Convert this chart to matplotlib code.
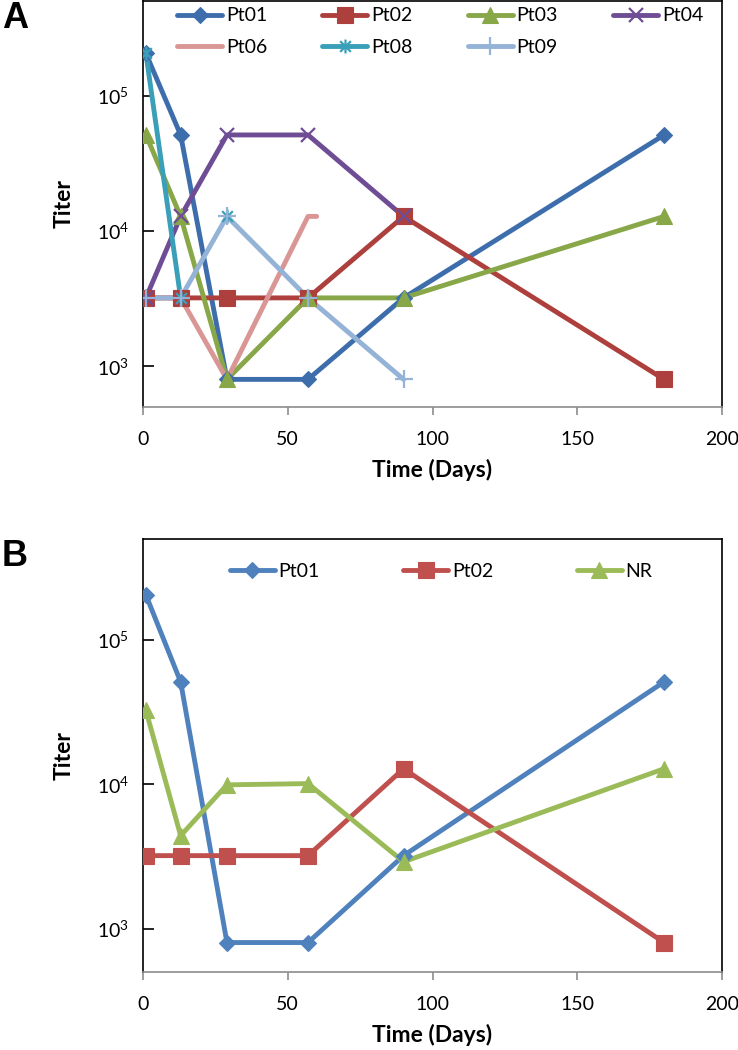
import numpy as np
import matplotlib
matplotlib.use("Agg")
import matplotlib.pyplot as plt
from matplotlib.path import Path
from matplotlib.lines import Line2D

plt.rcParams['font.family'] = ['Lato', 'DejaVu Sans']

# ---------------- data ----------------
days = [1, 13, 29, 57, 90, 180]

# Panel A
pt01_a = [204800, 51200, 800, 800, 3200, 51200]
pt02_a = [3200, 3200, 3200, 3200, 12800, 800]
pt03_a = [51200, 12800, 800, 3200, 3200, 12800]
pt04_x = [1, 13, 29, 57, 90]
pt04_a = [3200, 12800, 51200, 51200, 12800]
pt06_x = [1, 13, 29, 57, 60]
pt06_a = [3200, 3200, 800, 12800, 12800]
pt08_x = [1, 13, np.nan, 29]
pt08_a = [204800, 3200, np.nan, 12800]
pt09_x = [1, 13, 29, 57, 90]
pt09_a = [3200, 3200, 12800, 3200, 800]

# Panel B
pt01_b = [204800, 51200, 800, 800, 3200, 51200]
pt02_b = [3200, 3200, 3200, 3200, 12800, 800]
nr_b = [32500, 4400, 9900, 10100, 2900, 12800]

xticks = [0, 50, 100, 150, 200]
yticks = [1e3, 1e4, 1e5]
ytick_labels = [r'$\mathregular{10^{3}}$', r'$\mathregular{10^{4}}$', r'$\mathregular{10^{5}}$']

# asterisk marker (x + vertical bar)
ast = Path([(-1, -1), (1, 1), (-1, 1), (1, -1), (0, -1.3), (0, 1.3)],
           [Path.MOVETO, Path.LINETO, Path.MOVETO, Path.LINETO, Path.MOVETO, Path.LINETO])

W, H = 738, 1050
fig = plt.figure(figsize=(W / 100, H / 100), dpi=100)

def px_axes(left, top, right, bottom):
    return fig.add_axes([left / W, 1 - bottom / H, (right - left) / W, (bottom - top) / H])

def style_axes(ax):
    ax.set_yscale('log')
    ax.set_xlim(0, 200)
    ax.set_ylim(500, 500000)
    ax.set_xticks(xticks)
    ax.set_xticklabels([str(t) for t in xticks])
    ax.set_yticks(yticks)
    ax.set_yticklabels(ytick_labels)
    ax.yaxis.set_minor_locator(matplotlib.ticker.NullLocator())
    for s in ['left', 'top', 'right']:
        ax.spines[s].set_color('black')
        ax.spines[s].set_linewidth(1.2)
    ax.spines['bottom'].set_color('#8c8c8c')
    ax.spines['bottom'].set_linewidth(1.2)
    ax.tick_params(axis='x', direction='out', length=6, width=1.2, color='#8c8c8c',
                   labelsize=14, pad=11)
    ax.tick_params(axis='y', direction='in', length=8, width=1.2, color='black',
                   labelsize=14, pad=10)
    ax.set_xlabel('Time (Days)', fontsize=16.5, fontweight='bold', labelpad=8.5)
    ax.set_ylabel('Titer', fontsize=16.5, fontweight='bold', labelpad=16)

def series(ax, x, y, color, marker, ms, mew=1.5, filled=True, lw=3.5):
    ax.plot(x, y, color=color, lw=lw, solid_capstyle='round', solid_joinstyle='round', zorder=2)
    handle = Line2D([], [], color=color, lw=lw, solid_capstyle='round')
    if marker is not None:
        if filled:
            ax.plot(x, y, ls='none', marker=marker, ms=ms, mfc=color, mec=color, mew=0.8, zorder=3)
            handle = Line2D([], [], color=color, lw=lw, marker=marker, ms=ms, mfc=color, mec=color,
                            mew=0.8, solid_capstyle='round')
        else:
            ax.plot(x, y, ls='none', marker=marker, ms=ms, mec=color, mew=mew, zorder=3)
            handle = Line2D([], [], color=color, lw=lw, marker=marker, ms=ms, mec=color, mew=mew,
                            solid_capstyle='round')
    return handle

# ---------------- Panel A ----------------
axA = px_axes(143, 1, 722, 407)
style_axes(axA)
h = {}
h['Pt01'] = series(axA, days, pt01_a, '#3d6eab', 'D', 8)
h['Pt02'] = series(axA, days, pt02_a, '#ad403d', 's', 11)
h['Pt03'] = series(axA, days, pt03_a, '#87a748', '^', 11.5)
h['Pt04'] = series(axA, pt04_x, pt04_a, '#6e4d94', 'x', 10, mew=1.6, filled=False)
h['Pt06'] = series(axA, pt06_x, pt06_a, '#d99694', None, 0)
h['Pt08'] = series(axA, pt08_x, pt08_a, '#3a9fb8', ast, 10, mew=1.6, filled=False)
h['Pt09'] = series(axA, pt09_x, pt09_a, '#95b3d7', '+', 13, mew=1.6, filled=False)
orderA = ['Pt01', 'Pt06', 'Pt02', 'Pt08', 'Pt03', 'Pt09', 'Pt04']
axA.legend([h[k] for k in orderA], orderA, ncol=4, loc='upper left', bbox_to_anchor=(0.059, 0.984),
           frameon=False, fontsize=14, handlelength=2.3, handletextpad=0.2,
           columnspacing=2.85, labelspacing=0.75, borderpad=0, borderaxespad=0)

# ---------------- Panel B ----------------
axB = px_axes(143, 539, 722, 972)
style_axes(axB)
hB = []
hB.append(series(axB, days, pt01_b, '#4f81bd', 'D', 8))
hB.append(series(axB, days, pt02_b, '#c0504d', 's', 11))
hB.append(series(axB, days, nr_b, '#9bbb59', '^', 11.5))
axB.legend(hB, ['Pt01', 'Pt02', 'NR'], ncol=3, loc='upper left', bbox_to_anchor=(0.150, 0.945),
           frameon=False, fontsize=14, handlelength=2.3, handletextpad=0.2,
           columnspacing=4.3, borderpad=0, borderaxespad=0)

fig.text(2 / W, 1 - 19 / H, 'A', fontsize=26, fontweight='bold', family='Liberation Sans', va='center')
fig.text(2 / W, 1 - 557 / H, 'B', fontsize=26, fontweight='bold', family='Liberation Sans', va='center')

fig.savefig('out.png', dpi=100)
